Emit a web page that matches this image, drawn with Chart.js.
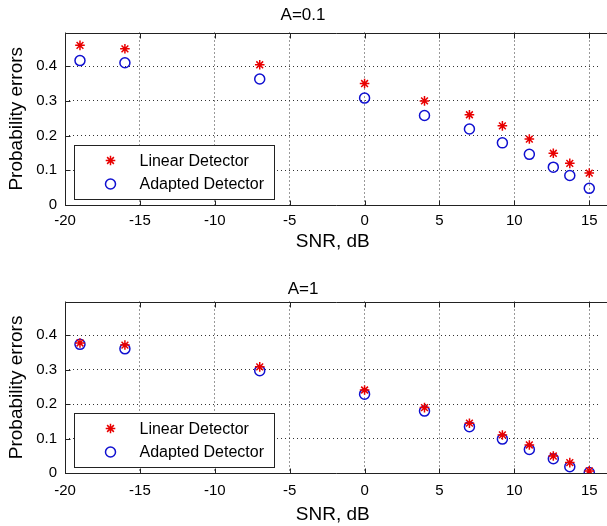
<!DOCTYPE html>
<html>
<head>
<meta charset="utf-8">
<script src="https://cdn.jsdelivr.net/npm/chart.js"></script>
<style>
  html, body { margin: 0; padding: 0; background: #fff; overflow: hidden; }
  .panel { position: absolute; left: 0; width: 607px; height: 263px; }
  #panel-top { top: 0; }
  #panel-bottom { top: 263px; }
</style>
</head>
<body>
<div class="panel" id="panel-top"><canvas id="chart-top"></canvas></div>
<div class="panel" id="panel-bottom"><canvas id="chart-bottom"></canvas></div>
<script>
// SNR points (dB), shared by both panels
const snr = [-19, -16, -7, 0, 4, 7, 9.2, 11, 12.6, 13.7, 15];

// A = 0.1
const linearA01 = [0.46, 0.45, 0.404, 0.35, 0.30, 0.26, 0.228, 0.19, 0.149, 0.12, 0.092];
const adaptedA01 = [0.416, 0.41, 0.363, 0.308, 0.258, 0.219, 0.179, 0.146, 0.109, 0.085, 0.048];

// A = 1
const linearA1 = [0.377, 0.371, 0.308, 0.241, 0.19, 0.145, 0.111, 0.082, 0.05, 0.031, 0.007];
const adaptedA1 = [0.373, 0.36, 0.297, 0.229, 0.18, 0.135, 0.099, 0.069, 0.042, 0.019, 0.002];

const seriesNames = ["Linear Detector", "Adapted Detector"];
const titles = ["A=0.1", "A=1"];
const xLabel = "SNR, dB";
const yLabel = "Probability errors";

(function () {
  const FONT = '"Liberation Sans", Arial, Helvetica, sans-serif';
  Chart.defaults.font.family = FONT;
  Chart.defaults.color = "#000";

  const RED = "#e80000";
  const BLUE = "#1010d0";

  function toPoints(xs, ys) {
    return xs.map((x, i) => ({ x, y: ys[i] }));
  }

  function drawMarker(ctx, style, x, y) {
    ctx.save();
    ctx.lineWidth = 1.5;
    if (style === "star") {
      ctx.strokeStyle = RED;
      const r = 4.8;
      ctx.beginPath();
      for (let k = 0; k < 4; k++) {
        const a = (k * Math.PI) / 4;
        ctx.moveTo(x - r * Math.cos(a), y - r * Math.sin(a));
        ctx.lineTo(x + r * Math.cos(a), y + r * Math.sin(a));
      }
      ctx.stroke();
    } else {
      ctx.strokeStyle = BLUE;
      ctx.beginPath();
      ctx.arc(x, y, 5, 0, Math.PI * 2);
      ctx.stroke();
    }
    ctx.restore();
  }

  // axes lines with inner tick marks, like matlab (right side is cropped off)
  const boxPlugin = {
    id: "matlabBox",
    beforeDatasetsDraw(chart) {
      const { ctx, chartArea: ca, scales } = chart;
      const l = Math.round(ca.left) + 0.5;
      const t = Math.round(ca.top) + 0.5;
      const b = Math.round(ca.bottom) + 0.5;
      ctx.save();
      ctx.strokeStyle = "#222";
      ctx.lineWidth = 1;
      ctx.beginPath();
      ctx.moveTo(chart.width, t);
      ctx.lineTo(l, t);
      ctx.lineTo(l, b);
      ctx.lineTo(chart.width, b);
      scales.x.ticks.forEach((tk) => {
        const px = Math.round(scales.x.getPixelForValue(tk.value)) + 0.5;
        ctx.moveTo(px, b);
        ctx.lineTo(px, b - 5);
        ctx.moveTo(px, t);
        ctx.lineTo(px, t + 5);
      });
      scales.y.ticks.forEach((tk) => {
        const py = Math.round(scales.y.getPixelForValue(tk.value)) + 0.5;
        ctx.moveTo(l, py);
        ctx.lineTo(l + 5, py);
      });
      ctx.stroke();
      ctx.restore();
    },
    afterDraw(chart) {
      const { ctx, chartArea: ca } = chart;
      const w = 200, h = 54;
      const left = Math.round(ca.left + 9) + 0.5;
      const top = Math.round(ca.bottom - 6 - h) + 0.5;
      ctx.save();
      ctx.fillStyle = "#fff";
      ctx.fillRect(left, top, w, h);
      ctx.strokeStyle = "#222";
      ctx.lineWidth = 1;
      ctx.strokeRect(left, top, w, h);
      ctx.fillStyle = "#000";
      ctx.font = "16px " + FONT;
      ctx.textBaseline = "middle";
      const rows = [["star", seriesNames[0], 15], ["circle", seriesNames[1], 38.5]];
      rows.forEach(([style, name, dy]) => {
        drawMarker(ctx, style, left + 36, top + dy);
        ctx.fillText(name, left + 65, top + dy + 1);
      });
      ctx.restore();
    },
  };

  function makeChart(canvasId, title, linear, adapted, lay) {
    const ctx = document.getElementById(canvasId).getContext("2d");
    return new Chart(ctx, {
      type: "scatter",
      data: {
        datasets: [
          {
            label: seriesNames[0],
            data: toPoints(snr, linear),
            pointStyle: "star",
            pointRadius: 4.8,
            pointHoverRadius: 4.8,
            borderColor: RED,
            backgroundColor: RED,
            pointBorderWidth: 1.5,
          },
          {
            label: seriesNames[1],
            data: toPoints(snr, adapted),
            pointStyle: "circle",
            pointRadius: 5,
            pointHoverRadius: 5,
            borderColor: BLUE,
            backgroundColor: "rgba(0,0,0,0)",
            pointBorderWidth: 1.5,
          },
        ],
      },
      options: {
        responsive: true,
        maintainAspectRatio: false,
        animation: false,
        layout: { padding: { top: 0, right: 1, bottom: 0, left: 0 } },
        plugins: {
          legend: { display: false },
          tooltip: { enabled: false },
          title: {
            display: true,
            text: title,
            color: "#000",
            font: { size: 17, weight: "normal" },
            padding: { top: lay.titleTop, bottom: lay.titleBottom },
          },
        },
        scales: {
          x: {
            type: "linear",
            min: -20,
            max: 15.75,
            afterFit: (s) => { s.height = lay.xHeight; },
            ticks: { stepSize: 5, includeBounds: false, padding: lay.xTickPad, font: { size: 15 }, color: "#000", maxRotation: 0 },
            grid: { color: "#333", lineWidth: 1, drawTicks: false },
            border: { display: false, dash: [1, 3] },
            title: { display: true, text: xLabel, font: { size: 19 }, color: "#000", padding: { top: 0, bottom: lay.xTitleBottom } },
          },
          y: {
            min: 0,
            max: 0.497,
            afterFit: (s) => { s.width = 65; },
            ticks: { stepSize: 0.1, includeBounds: false, padding: 8, font: { size: 15 }, color: "#000" },
            grid: { color: "#333", lineWidth: 1, drawTicks: false },
            border: { display: false, dash: [1, 3] },
            title: { display: true, text: yLabel, font: { size: 19 }, color: "#000", padding: { top: 5.6, bottom: 0 } },
          },
        },
      },
      plugins: [boxPlugin],
    });
  }

  makeChart("chart-top", titles[0], linearA01, adaptedA01, {
    titleTop: 4.8, titleBottom: 7.3, xHeight: 58, xTickPad: 7, xTitleBottom: 9.9,
  });
  makeChart("chart-bottom", titles[1], linearA1, adaptedA1, {
    titleTop: 15.8, titleBottom: 2.3, xHeight: 52.7, xTickPad: 9, xTitleBottom: 0,
  });
})();
</script>
</body>
</html>
